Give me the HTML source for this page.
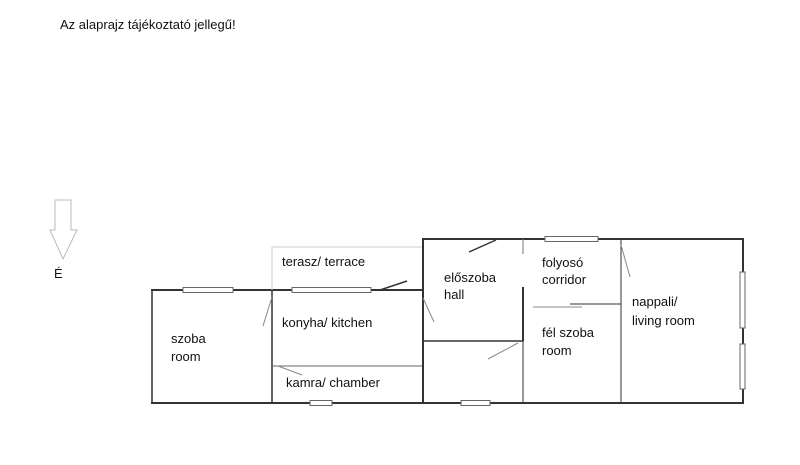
<!DOCTYPE html>
<html><head><meta charset="utf-8"><style>
body{margin:0;background:#fff;width:800px;height:460px;overflow:hidden}
svg text{font-family:"Liberation Sans",sans-serif;fill:#111}
</style></head><body>
<svg width="800" height="460" viewBox="0 0 800 460" xmlns="http://www.w3.org/2000/svg">
<text x="60" y="29" font-size="13">Az alaprajz tájékoztató jellegű!</text>
<polygon points="55,200 71,200 71,230 77,230 63,259 50,230 55,230" fill="none" stroke="#bbb" stroke-width="1"/>
<text x="54" y="278" font-size="13">É</text>
<g stroke="#333" fill="none">
<line x1="151" y1="290" x2="423" y2="290" stroke-width="2"/>
<line x1="152" y1="290" x2="152" y2="403" stroke-width="1.5"/>
<line x1="151" y1="403" x2="423" y2="403" stroke-width="2"/>
<line x1="272" y1="290" x2="272" y2="403" stroke-width="1.5"/>
<line x1="272" y1="366" x2="423" y2="366" stroke-width="1" stroke="#666"/>
<polyline points="272,290 272,247 423,247" stroke="#ccc" stroke-width="1"/>
<line x1="380" y1="290" x2="407" y2="281" stroke-width="1.5"/>
<line x1="272" y1="297" x2="263" y2="326" stroke="#888" stroke-width="1"/>
<line x1="278" y1="366" x2="302" y2="375" stroke="#888" stroke-width="1"/>
<rect x="423" y="239" width="320" height="164" stroke-width="2"/>
<line x1="423" y1="341" x2="523" y2="341" stroke-width="1.5"/>
<line x1="523" y1="239" x2="523" y2="254" stroke-width="1" stroke="#777"/>
<line x1="523" y1="287" x2="523" y2="341" stroke-width="2"/>
<line x1="523" y1="341" x2="523" y2="403" stroke-width="1"/>
<line x1="621" y1="239" x2="621" y2="403" stroke-width="1"/>
<line x1="533" y1="307" x2="582" y2="307" stroke="#888" stroke-width="1"/>
<line x1="570" y1="304" x2="621" y2="304" stroke-width="1"/>
<line x1="469" y1="252" x2="496" y2="240" stroke-width="1.5"/>
<line x1="423" y1="298" x2="434" y2="322" stroke="#888" stroke-width="1"/>
<line x1="488" y1="359" x2="518" y2="343" stroke="#888" stroke-width="1"/>
<line x1="621" y1="245" x2="630" y2="277" stroke="#888" stroke-width="1"/>
</g>
<g fill="#fff" stroke="#666" stroke-width="1">
<rect x="183" y="287.5" width="50" height="5"/>
<rect x="292" y="287.5" width="79" height="5"/>
<rect x="310" y="400.5" width="22" height="5"/>
<rect x="545" y="236.5" width="53" height="5"/>
<rect x="461" y="400.5" width="29" height="5"/>
<rect x="740" y="272" width="5" height="56"/>
<rect x="740" y="344" width="5" height="45"/>
</g>
<g font-size="13">
<text x="282" y="266">terasz/ terrace</text>
<text x="282" y="327">konyha/ kitchen</text>
<text x="171" y="343">szoba</text>
<text x="171" y="361">room</text>
<text x="286" y="387">kamra/ chamber</text>
<text x="444" y="282">előszoba</text>
<text x="444" y="299">hall</text>
<text x="542" y="267">folyosó</text>
<text x="542" y="284">corridor</text>
<text x="542" y="337">fél szoba</text>
<text x="542" y="355">room</text>
<text x="632" y="306">nappali/</text>
<text x="632" y="325">living room</text>
</g>
</svg>
</body></html>
